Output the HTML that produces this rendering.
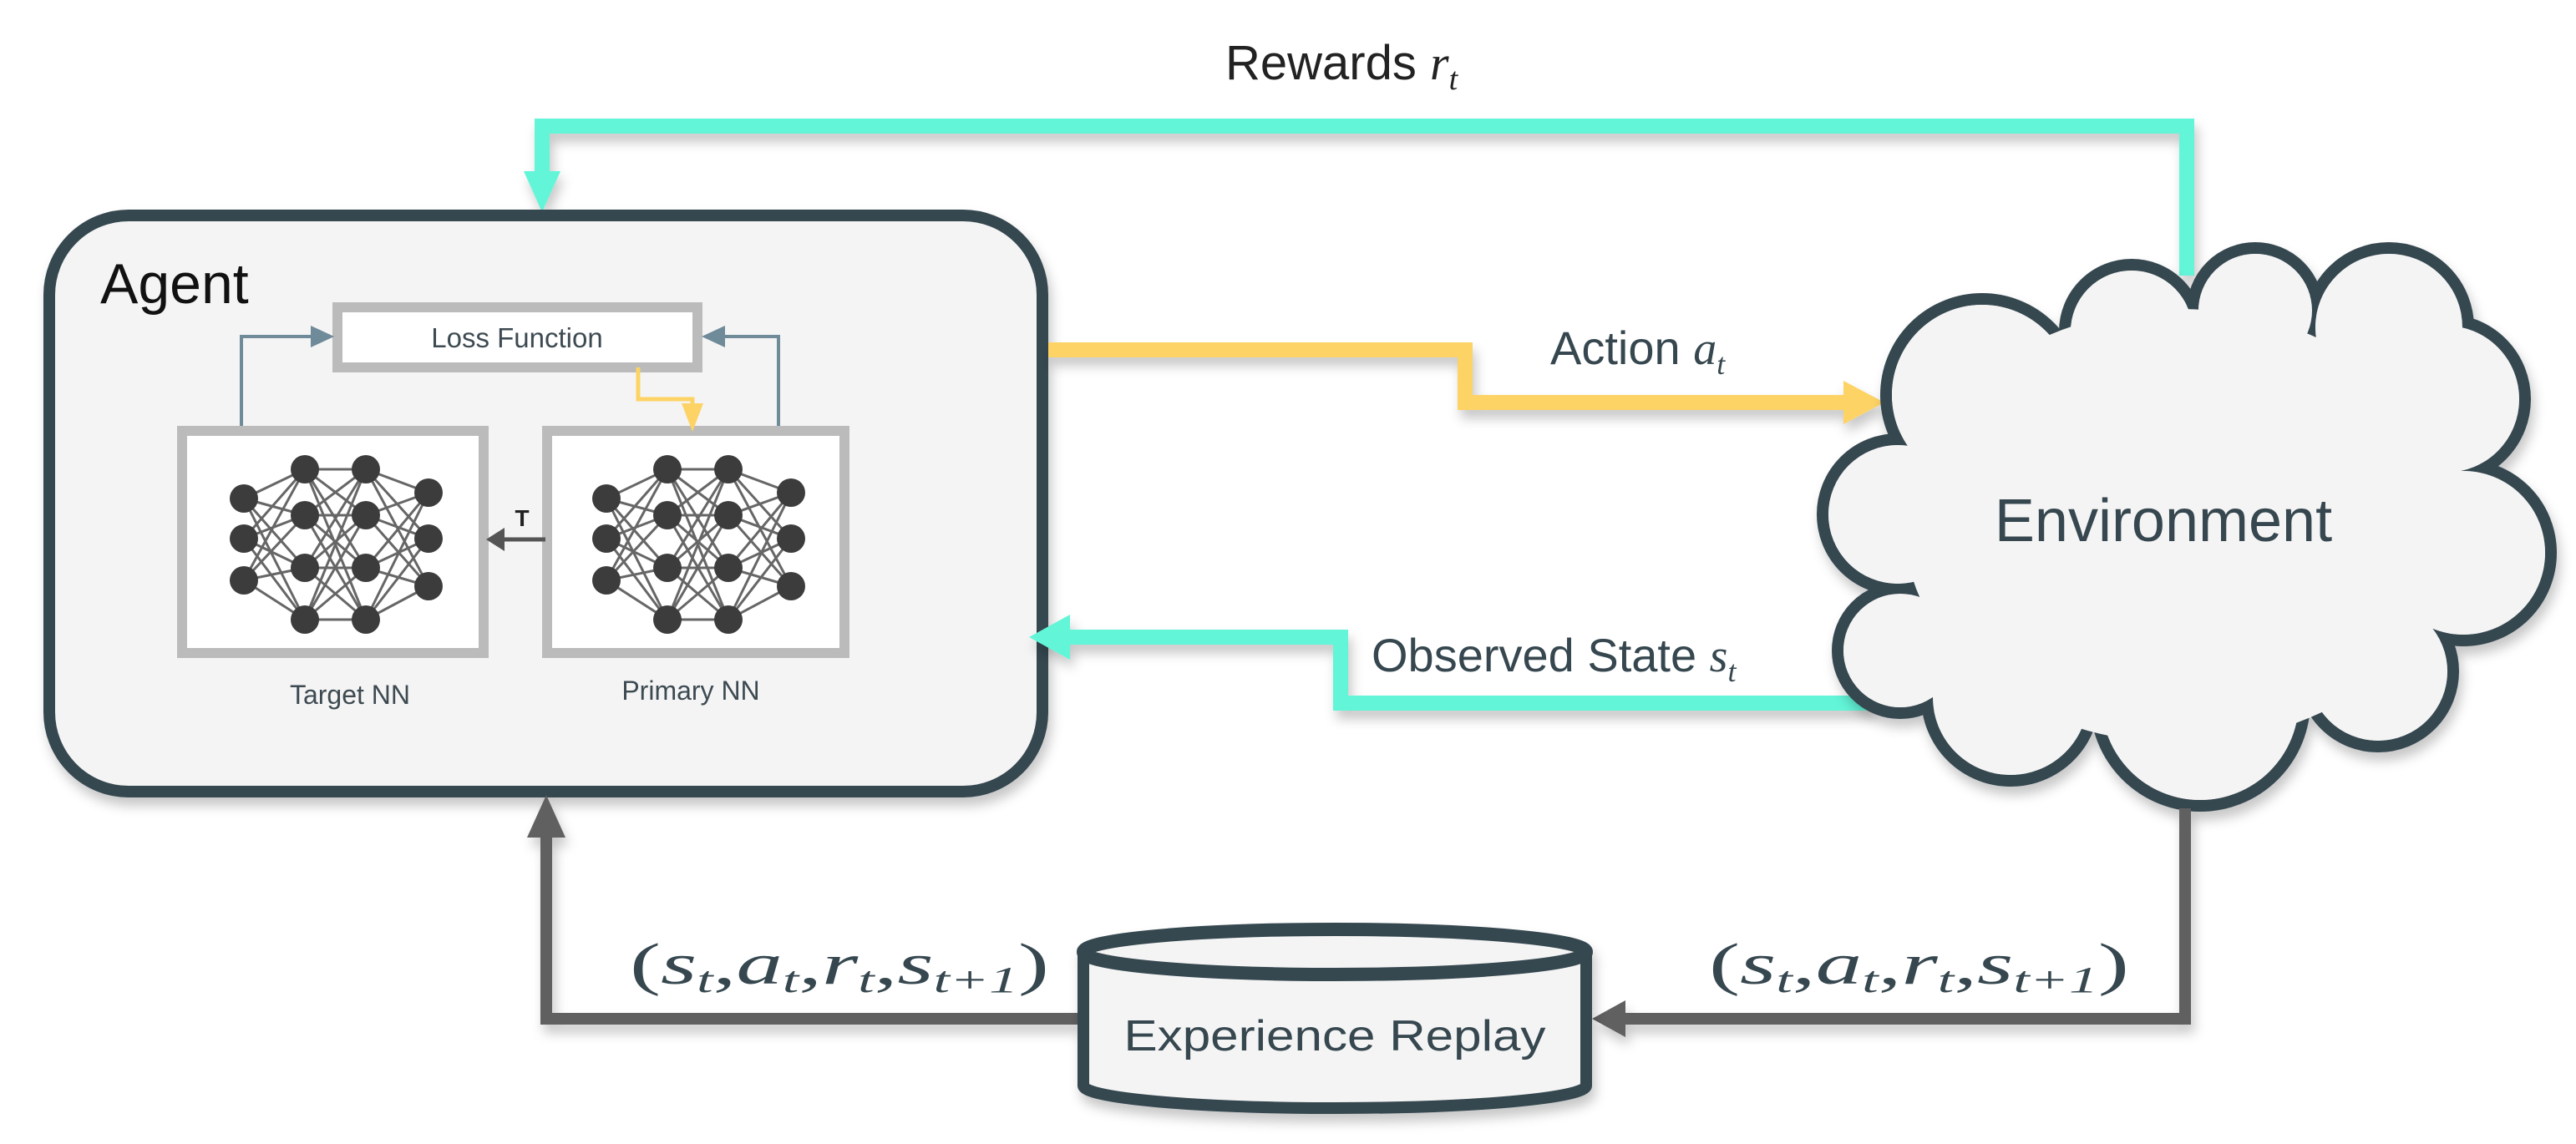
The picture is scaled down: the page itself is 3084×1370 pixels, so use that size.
<!DOCTYPE html>
<html><head><meta charset="utf-8"><style>
html,body{margin:0;padding:0;background:#fff;}
svg{display:block;}
</style></head><body>
<svg width="3084" height="1370" viewBox="0 0 3084 1370" xmlns="http://www.w3.org/2000/svg">
<defs>
<filter id="sh" x="-10%" y="-10%" width="130%" height="140%"><feDropShadow dx="4" dy="10" stdDeviation="7" flood-color="#000" flood-opacity="0.22"/></filter>
<g id="nn">
 <g stroke="#666" stroke-width="3">
  <path d="M292 597L365 562M292 597L365 617M292 597L365 680M292 597L365 742M292 645L365 562M292 645L365 617M292 645L365 680M292 645L365 742M292 695L365 562M292 695L365 617M292 695L365 680M292 695L365 742"/>
  <path d="M365 562L438 562M365 562L438 617M365 562L438 680M365 562L438 742M365 617L438 562M365 617L438 617M365 617L438 680M365 617L438 742M365 680L438 562M365 680L438 617M365 680L438 680M365 680L438 742M365 742L438 562M365 742L438 617M365 742L438 680M365 742L438 742"/>
  <path d="M438 562L513 590M438 562L513 645M438 562L513 702M438 617L513 590M438 617L513 645M438 617L513 702M438 680L513 590M438 680L513 645M438 680L513 702M438 742L513 590M438 742L513 645M438 742L513 702"/>
 </g>
 <g fill="#3c3c3c">
  <circle cx="292" cy="597" r="17"/><circle cx="292" cy="645" r="17"/><circle cx="292" cy="695" r="17"/>
  <circle cx="365" cy="562" r="17"/><circle cx="365" cy="617" r="17"/><circle cx="365" cy="680" r="17"/><circle cx="365" cy="742" r="17"/>
  <circle cx="438" cy="562" r="17"/><circle cx="438" cy="617" r="17"/><circle cx="438" cy="680" r="17"/><circle cx="438" cy="742" r="17"/>
  <circle cx="513" cy="590" r="17"/><circle cx="513" cy="645" r="17"/><circle cx="513" cy="702" r="17"/>
 </g>
</g>
</defs>

<g filter="url(#sh)">
<path d="M2618 330 L2618 151 L649 151 L649 210" fill="none" stroke="#62f5d8" stroke-width="18"/>
<polygon points="627,205 671,205 649,254" fill="#62f5d8"/>
</g>
<text x="1467" y="95" font-family="Liberation Sans, sans-serif" font-size="58" fill="#222">Rewards <tspan font-family="Liberation Serif, serif" font-style="italic">r</tspan><tspan font-family="Liberation Serif, serif" font-style="italic" font-size="38" dy="12">t</tspan></text>

<rect x="59" y="258" width="1189" height="690" rx="95" ry="95" fill="#f4f4f4" stroke="#36474f" stroke-width="14" filter="url(#sh)"/>
<text x="120" y="363" font-family="Liberation Sans, sans-serif" font-size="68" fill="#111">Agent</text>

<rect x="404" y="368" width="431" height="72" fill="#fff" stroke="#bbb" stroke-width="12"/>
<text x="619" y="416" text-anchor="middle" font-family="Liberation Sans, sans-serif" font-size="33" fill="#3d4a52">Loss Function</text>

<rect x="218" y="516" width="361" height="266" fill="#fff" stroke="#bbb" stroke-width="12"/>
<rect x="655" y="516" width="356" height="266" fill="#fff" stroke="#bbb" stroke-width="12"/>
<use href="#nn"/>
<use href="#nn" transform="translate(434,0)"/>
<text x="419" y="843" text-anchor="middle" font-family="Liberation Sans, sans-serif" font-size="32" fill="#3d4a52">Target NN</text>
<text x="827" y="838" text-anchor="middle" font-family="Liberation Sans, sans-serif" font-size="32" fill="#3d4a52">Primary NN</text>

<path d="M289 510 L289 403 L380 403" fill="none" stroke="#6f8a99" stroke-width="4"/>
<polygon points="372,390 400,403 372,416" fill="#6f8a99"/>
<path d="M932 510 L932 403 L860 403" fill="none" stroke="#6f8a99" stroke-width="4"/>
<polygon points="868,390 840,403 868,416" fill="#6f8a99"/>
<path d="M764 440 L764 478 L829 478 L829 495" fill="none" stroke="#fdd365" stroke-width="5"/>
<polygon points="816,483 842,483 829,517" fill="#fdd365"/>
<path d="M653 646 L598 646" stroke="#555" stroke-width="5"/>
<polygon points="604,632 582,646 604,660" fill="#555"/>
<text x="625" y="630" text-anchor="middle" font-family="Liberation Sans, sans-serif" font-size="28" font-weight="bold" fill="#222">T</text>

<g filter="url(#sh)">
<path d="M1255 419 L1754 419 L1754 482 L2215 482" fill="none" stroke="#fdd365" stroke-width="18"/>
<polygon points="2207,456 2256,482 2207,508" fill="#fdd365"/>
</g>
<text x="1856" y="436" font-family="Liberation Sans, sans-serif" font-size="56" fill="#36474f">Action <tspan font-family="Liberation Serif, serif" font-style="italic">a</tspan><tspan font-family="Liberation Serif, serif" font-style="italic" font-size="36" dy="12">t</tspan></text>

<g filter="url(#sh)">
<path d="M2240 842 L1605 842 L1605 763 L1270 763" fill="none" stroke="#62f5d8" stroke-width="18"/>
<polygon points="1281,736 1232,763 1281,790" fill="#62f5d8"/>
</g>
<text x="1642" y="804" font-family="Liberation Sans, sans-serif" font-size="56" fill="#36474f">Observed State <tspan font-family="Liberation Serif, serif" font-style="italic">s</tspan><tspan font-family="Liberation Serif, serif" font-style="italic" font-size="36" dy="12">t</tspan></text>

<g filter="url(#sh)">
<g fill="#f4f4f4" stroke="#36474f" stroke-width="14">
 <circle cx="2373" cy="473" r="115"/><circle cx="2552" cy="397" r="80"/><circle cx="2700" cy="372" r="75"/>
 <circle cx="2860" cy="392" r="95"/><circle cx="2928" cy="478" r="95"/><circle cx="2949" cy="662" r="105"/>
 <circle cx="2847" cy="804" r="90"/><circle cx="2634" cy="840" r="125"/><circle cx="2407" cy="835" r="100"/>
 <circle cx="2275" cy="779" r="75"/><circle cx="2272" cy="616" r="90"/>
</g>
<g fill="#f4f4f4">
 <circle cx="2373" cy="473" r="108"/><circle cx="2552" cy="397" r="73"/><circle cx="2700" cy="372" r="68"/>
 <circle cx="2860" cy="392" r="88"/><circle cx="2928" cy="478" r="88"/><circle cx="2949" cy="662" r="98"/>
 <circle cx="2847" cy="804" r="83"/><circle cx="2634" cy="840" r="118"/><circle cx="2407" cy="835" r="93"/>
 <circle cx="2275" cy="779" r="68"/><circle cx="2272" cy="616" r="83"/>
 <ellipse cx="2610" cy="630" rx="330" ry="260"/>
</g>
</g>
<text x="2590" y="648" text-anchor="middle" font-family="Liberation Sans, sans-serif" font-size="72" fill="#36474f">Environment</text>

<g filter="url(#sh)">
<path d="M2616 968 L2616 1220 L1940 1220" fill="none" stroke="#616161" stroke-width="14"/>
<polygon points="1946,1198 1906,1220 1946,1242" fill="#616161"/>
<path d="M1290 1220 L654 1220 L654 995" fill="none" stroke="#616161" stroke-width="14"/>
<polygon points="631,1003 677,1003 654,952" fill="#616161"/>
</g>

<g filter="url(#sh)">
<path d="M1297 1140 L1297 1300 A301 27 0 0 0 1899 1300 L1899 1140" fill="#f4f4f4" stroke="#36474f" stroke-width="14"/>
<ellipse cx="1598" cy="1140" rx="301" ry="27" fill="#f4f4f4" stroke="#36474f" stroke-width="16"/>
</g>
<text x="1598" y="1258" text-anchor="middle" font-family="Liberation Sans, sans-serif" font-size="52" fill="#36474f" textLength="505" lengthAdjust="spacingAndGlyphs">Experience Replay</text>

<g font-family="Liberation Serif, serif" font-size="70" fill="#36474f">
<text x="754" y="1178" textLength="502" lengthAdjust="spacingAndGlyphs">(<tspan font-style="italic">s</tspan><tspan font-style="italic" font-size="44" dy="10">t</tspan><tspan dy="-10">,</tspan><tspan font-style="italic">a</tspan><tspan font-style="italic" font-size="44" dy="10">t</tspan><tspan dy="-10">,</tspan><tspan font-style="italic">r</tspan><tspan font-style="italic" font-size="44" dy="10">t</tspan><tspan dy="-10">,</tspan><tspan font-style="italic">s</tspan><tspan font-style="italic" font-size="44" dy="10">t+1</tspan><tspan dy="-10">)</tspan></text>
<text x="2046" y="1178" textLength="503" lengthAdjust="spacingAndGlyphs">(<tspan font-style="italic">s</tspan><tspan font-style="italic" font-size="44" dy="10">t</tspan><tspan dy="-10">,</tspan><tspan font-style="italic">a</tspan><tspan font-style="italic" font-size="44" dy="10">t</tspan><tspan dy="-10">,</tspan><tspan font-style="italic">r</tspan><tspan font-style="italic" font-size="44" dy="10">t</tspan><tspan dy="-10">,</tspan><tspan font-style="italic">s</tspan><tspan font-style="italic" font-size="44" dy="10">t+1</tspan><tspan dy="-10">)</tspan></text>
</g>
</svg>
</body></html>
